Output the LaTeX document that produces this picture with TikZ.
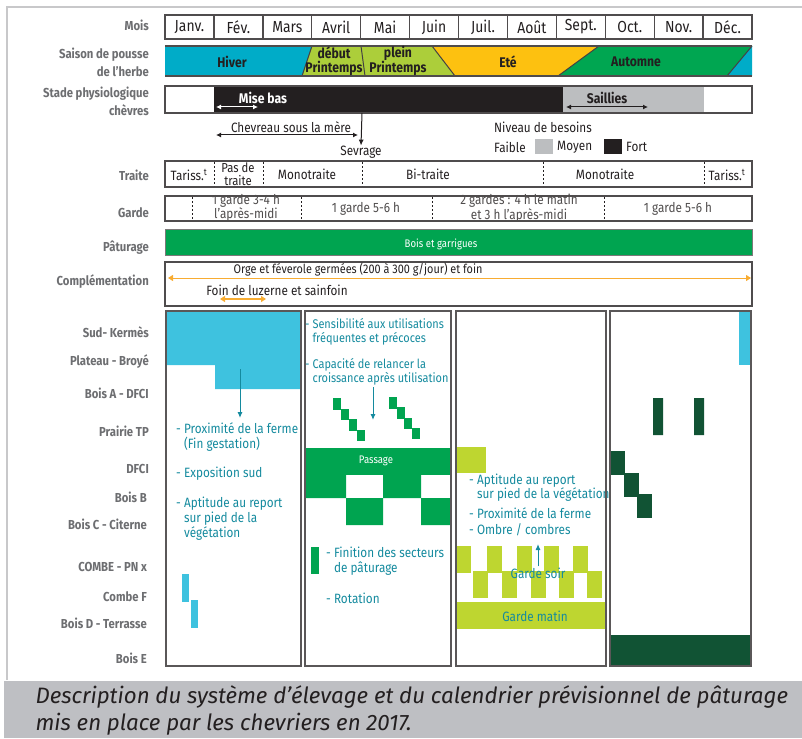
\documentclass[tikz,border=0pt]{standalone}
\usepackage{fontspec}
\setmainfont{Fira Sans}[FakeStretch=0.87]
\newfontfamily\capfont{Fira Sans}
\usetikzlibrary{arrows.meta,positioning}
\definecolor{inkc}{RGB}{35,31,32}
\definecolor{labgray}{RGB}{109,110,113}
\definecolor{framegray}{RGB}{200,200,202}
\definecolor{capgray}{RGB}{190,191,195}
\definecolor{midgray}{RGB}{188,190,192}
\definecolor{hivercyan}{RGB}{0,172,200}
\definecolor{printlime}{RGB}{172,206,58}
\definecolor{eteyellow}{RGB}{253,193,16}
\definecolor{autgreen}{RGB}{0,166,81}
\definecolor{paltgreen}{RGB}{0,164,80}
\definecolor{skycyan}{RGB}{62,194,223}
\definecolor{limec}{RGB}{190,214,48}
\definecolor{darkgreen}{RGB}{17,83,52}
\definecolor{tealtxt}{RGB}{20,138,158}
\definecolor{orangec}{RGB}{248,172,50}
\def\mw{48.92}

\begin{document}
\begin{tikzpicture}[x=1pt,y=-1pt,>=Latex,
  rowlab/.style={anchor=east,align=right,text=labgray,inner sep=0pt,font=\fontsize{13}{18}\selectfont\bfseries},
  mois/.style={text=inkc,font=\fontsize{16}{16}\selectfont},
  saison/.style={text=inkc,align=center,inner sep=0pt,font=\fontsize{14}{13.5}\selectfont\bfseries},
  band/.style={text=inkc,align=center,inner sep=0pt,font=\fontsize{13.5}{11.5}\selectfont},
  gardetxt/.style={text=inkc!80,align=center,inner sep=0pt,font=\fontsize{13.5}{12.5}\selectfont},
  smallw/.style={text=white,inner sep=0pt,font=\fontsize{11}{11}\selectfont},
  bullet/.style={anchor=west,align=left,text=tealtxt,inner sep=1pt,font=\fontsize{13.5}{15}\selectfont},
  boxline/.style={draw=inkc!80,line width=1.4pt},
  divline/.style={inkc,line width=1pt,dash pattern=on 2pt off 2pt},
  panel/.style={draw=inkc!75,line width=1.4pt},
  dbl/.style={{Latex[length=5pt,width=5pt]}-{Latex[length=5pt,width=5pt]}},
  obl/.style={orangec,{Triangle[length=5pt,width=6pt]}-{Triangle[length=5pt,width=6pt]}}]
\useasboundingbox (0,0) rectangle (802,738);

% cadre et legende
\draw[framegray,line width=2.5pt] (7,680) -- (7,7) -- (802,7);
\fill[capgray] (4,681) rectangle (802,738);
\node[anchor=west,text=inkc,font=\capfont\itshape\fontsize{22.3}{24}\selectfont] (cap1) at (32,697) {Description du système d’élevage et du calendrier prévisionnel de pâturage};
\node[anchor=west,text=inkc,font=\capfont\itshape\fontsize{22.3}{24}\selectfont] (cap2) at (32,724) {mis en place par les chevriers en 2017.};

% etiquettes des lignes
\node[rowlab] (lmois) at (149,25) {Mois};
\node[rowlab] (lsaison) at (149,62) {Saison de pousse\\de l’herbe};
\node[rowlab] (lstade) at (149,101) {Stade physiologique\\chèvres};
\foreach \y/\t [count=\k] in {175/Traite,213/Garde,248/Pâturage,282/Complémentation,332/Sud- Kermès,362/Plateau - Broyé,393/Bois A - DFCI,431/Prairie TP,469/DFCI}
  \node[rowlab] (lr\k) at (149,\y) {\t};
\foreach \y/\t [count=\k] in {497/Bois B,524/Bois C - Citerne,567/COMBE - PN x,597/Combe F,623/Bois D - Terrasse,658/Bois E}
  \node[rowlab] (lb\k) at (147,\y) {\t};

% mois
\foreach \mn [count=\i from 0] in {Janv.,Fév.,Mars,Avril,Mai,Juin,Juil.,Août,Sept.,Oct.,Nov.,Déc.} {
  \draw[boxline] ({165+\i*\mw},15) rectangle ++(\mw,24);
  \node[mois] (m\i) at ({165+(\i+0.5)*\mw},27) {\mn};
}

% saisons
\fill[hivercyan] (165,46) -- (312,46) -- (302,76) -- (165,76) -- cycle;
\fill[printlime] (312,46) -- (432,46) -- (455,76) -- (302,76) -- cycle;
\fill[eteyellow] (432,46) -- (599,46) -- (558,76) -- (455,76) -- cycle;
\fill[autgreen] (599,46) -- (752,46) -- (727,76) -- (558,76) -- cycle;
\fill[hivercyan] (752,46) -- (752,76) -- (727,76) -- cycle;
\draw[inkc!85,line width=1pt] (312,46) -- (302,76) (361,46) -- (365,76) (432,46) -- (455,76) (599,46) -- (558,76) (752,46) -- (727,76);
\draw[inkc!80,line width=1.5pt] (165,46) -- (752,46) (165,76) -- (752,76);
\node[saison] (hiver) at (232,62) {Hiver};
\node[saison] (debut) at (334,61) {début\\Printemps};
\node[saison] (plein) at (398,61) {plein\\Printemps};
\node[saison] (ete) at (508,62) {Eté};
\node[saison] (automne) at (636,62) {Automne};

% stade physiologique
\fill[inkc] (214,86) rectangle (563,113);
\fill[midgray] (563,86) rectangle (704,113);
\draw[boxline] (165,86) rectangle (752,113);
\node[saison,text=white] (misebas) at (263,98) {Mise bas};
\coordinate (mb1) at (216,107);
\coordinate (mb2) at (258,107);
\draw[white,line width=1pt,dbl] (mb1) -- (mb2);
\node[saison] (saillies) at (607,98) {Saillies};
\coordinate (sa1) at (566,107);
\coordinate (sa2) at (648,107);
\draw[inkc,line width=1pt,dbl] (sa1) -- (sa2);
\node[band] (chevreau) at (291,127) {Chevreau sous la mère};
\coordinate (ch1) at (216,135);
\coordinate (ch2) at (358,135);
\draw[inkc,line width=1pt,dbl] (ch1) -- (ch2);
\node[band] (sevrage) at (361,152) {Sevrage};
\coordinate (sev0) at (362,113);
\draw[inkc,line width=1pt,-{Latex[length=6pt,width=5pt]}] (sev0) -- (sevrage.north);

% niveau de besoins
\node[band,anchor=west] (niveau) at (494,127) {Niveau de besoins};
\node[band,anchor=west] (faible) at (494,147) {Faible};
\fill[midgray] (535,139) rectangle (553,154);
\node[band,anchor=west] (moyen) at (557,147) {Moyen};
\fill[inkc] (604,139) rectangle (622,154);
\node[band,anchor=west] (fort) at (626,147) {Fort};

% traite
\draw[boxline] (165,161) rectangle (752,187);
\foreach \x in {214,263,362,543,704} \draw[divline] (\x,162) -- (\x,186);
\node[band] (t1) at (189,175) {Tariss.\textsuperscript{t}};
\node[band,font=\fontsize{13}{12.5}\selectfont] (t2) at (238,174) {Pas de\\traite};
\node[band] (t3) at (307,174) {Monotraite};
\node[band] (t4) at (428,174) {Bi-traite};
\node[band] (t5) at (605,174) {Monotraite};
\node[band] (t6) at (727,175) {Tariss.\textsuperscript{t}};

% garde
\draw[boxline] (165,196) rectangle (752,221);
\foreach \x in {192,301,432,604} \draw[divline] (\x,197) -- (\x,220);
\node[gardetxt] (g1) at (246,208) {1 garde 3-4 h\\l’après-midi};
\node[gardetxt] (g2) at (366,209) {1 garde 5-6 h};
\node[gardetxt] (g3) at (519,208) {2 gardes : 4 h le matin\\et 3 h l’après-midi};
\node[gardetxt] (g4) at (678,209) {1 garde 5-6 h};

% paturage
\fill[paltgreen] (165,229) rectangle (752,255);
\draw[inkc!60,line width=1pt] (165,229) rectangle (752,255);
\node[smallw] (bois) at (441,244) {Bois et garrigues};

% complementation
\draw[boxline] (165,262) rectangle (752,306);
\node[band,font=\fontsize{12.5}{12}\selectfont] (orge) at (358,270) {Orge et féverole germées (200 à 300 g/jour) et foin};
\coordinate (o1) at (168,278);
\coordinate (o2) at (751,278);
\draw[obl,line width=1pt] (o1) -- (o2);
\node[band] (foin) at (277,290) {Foin de luzerne et sainfoin};
\coordinate (f1) at (220,299);
\coordinate (f2) at (266,299);
\draw[obl,line width=2pt] (f1) -- (f2);

% panneau 1
\fill[skycyan] (166,311) -- (301,311) -- (301,389) -- (215,389) -- (215,365) -- (166,365) -- cycle;
\coordinate (a1s) at (240,369);
\coordinate (a1e) at (240,418);
\draw[tealtxt,line width=1pt,-{Latex[length=6pt,width=5pt]}] (a1s) -- (a1e);
\node[bullet] (b1a) at (175,437.5) {- Proximité de la ferme\\\hphantom{-~}(Fin gestation)};
\node[bullet] (b1b) at (175,474) {- Exposition sud};
\node[bullet] (b1c) at (175,519) {- Aptitude au report\\\hphantom{-~}sur pied de la\\\hphantom{-~}végétation};
\fill[skycyan] (182,574) rectangle (189,602);
\fill[skycyan] (191,600) rectangle (198,628);
\draw[panel] (166,311) rectangle (301,666);

% panneau 2
\node[bullet,font=\fontsize{12.6}{14.5}\selectfont] (b2a) at (304,332) {- Sensibilité aux utilisations\\\hphantom{-~}fréquentes et précoces};
\node[bullet,font=\fontsize{12.6}{14.5}\selectfont] (b2b) at (304,372) {- Capacité de relancer la\\\hphantom{-~}croissance après utilisation};
\coordinate (a2s) at (373,387);
\coordinate (a2e) at (373,420);
\draw[tealtxt,line width=1pt,-{Latex[length=6pt,width=5pt]}] (a2s) -- (a2e);
\foreach \k in {0,...,3} {
  \fill[paltgreen] ({333+8*\k},{398+10.5*\k}) rectangle ++(8,11.5);
  \fill[paltgreen] ({389+7.7*\k},{397+10.3*\k}) rectangle ++(8,11.5);
}
\fill[paltgreen] (305,448) rectangle (451,475);
\fill[paltgreen] (305,475) rectangle (346,498) (383,475) rectangle (421,498);
\fill[paltgreen] (346,498) rectangle (383,525) (421,498) rectangle (451,525);
\node[smallw] (passage) at (376,461) {Passage};
\fill[paltgreen] (311,547) rectangle (319,574);
\node[bullet] (b2c) at (325,561.5) {- Finition des secteurs\\\hphantom{-~}de pâturage};
\node[bullet] (b2d) at (325,598) {- Rotation};
\draw[panel] (305,311) rectangle (451,666);

% panneau 3
\fill[limec] (456,447) rectangle (486,473);
\node[bullet,font=\fontsize{13.5}{14}\selectfont] (b3a) at (468,488) {- Aptitude au report\\\hphantom{-~}sur pied de la végétation};
\node[bullet] (b3b) at (468,513) {- Proximité de la ferme};
\node[bullet] (b3c) at (468,530) {- Ombre / combres};
\foreach \x in {456,487,517,544,573} \fill[limec] (\x,546) rectangle ++(15,27);
\foreach \x in {473,502,531,559,587} \fill[limec] (\x,571) rectangle ++(15,27);
\fill[limec] (456,602) rectangle (606,629);
\node[bullet,anchor=center] (gsoir) at (538,573) {Garde soir};
\coordinate (a3e) at (538,544);
\draw[tealtxt,line width=1pt,-{Latex[length=6pt,width=5pt]}] (gsoir.north) -- (a3e);
\node[bullet,anchor=center] (gmatin) at (535,616) {Garde matin};
\draw[panel] (456,311) rectangle (606,666);

% panneau 4
\fill[skycyan] (739,311) rectangle (751,365);
\fill[darkgreen] (653,398) rectangle (663,435) (694,398) rectangle (704,435);
\foreach \x/\y in {610/451,624/473,637/494} \fill[darkgreen] (\x,\y) rectangle ++(15,24);
\fill[darkgreen] (610,635) rectangle (751,666);
\draw[panel] (610,311) rectangle (751,666);
\end{tikzpicture}
\end{document}
